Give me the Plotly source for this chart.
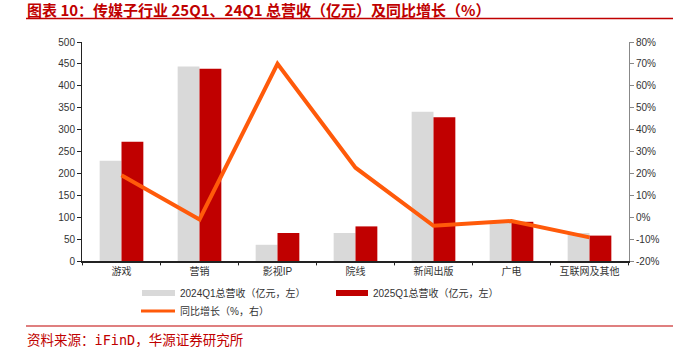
import plotly.graph_objects as go

categories = ["游戏", "营销", "影视IP", "院线", "新闻出版", "广电", "互联网及其他"]
rev_2024q1 = [229, 444, 37, 64, 341, 91, 64]
rev_2025q1 = [272, 439, 64, 79, 328, 89.5, 58]
yoy_growth = [19.2, -1.0, 70.0, 22.6, -3.9, -1.7, -9.2]

left_ticks = list(range(0, 501, 50))
right_ticks = list(range(-20, 81, 10))
right_tick_text = [f"{v}%" for v in right_ticks]

W, H = 687, 347
L, R, T, B = 82, 58, 42, 86
PW, PH = W - L - R, H - T - B

def px(x):
    return (x - L) / PW

def py(y):
    return (H - B - y) / PH

GRAY = "#d9d9d9"
RED = "#c00000"
ORANGE = "#ff5a0a"
TXT = "#333333"
FONT = "Liberation Sans, Noto Sans CJK SC, Arial"
CJK = "Noto Sans CJK SC, Liberation Sans"

fig = go.Figure()
fig.add_trace(go.Bar(x=categories, y=rev_2024q1, marker=dict(color=GRAY, line=dict(width=0)),
                     name="2024Q1总营收（亿元，左）"))
fig.add_trace(go.Bar(x=categories, y=rev_2025q1, marker=dict(color=RED, line=dict(width=0)),
                     name="2025Q1总营收（亿元，左）"))
fig.add_trace(go.Scatter(x=categories, y=yoy_growth, yaxis="y2", mode="lines",
                         line=dict(color=ORANGE, width=4), name="同比增长（%，右）"))

shapes = []
annotations = []

# title
annotations.append(dict(xref="paper", yref="paper", x=px(25), y=py(9), xanchor="left", yanchor="middle",
                        text="<b>图表 10：传媒子行业 25Q1、24Q1 总营收（亿元）及同比增长（%）</b>",
                        showarrow=False, font=dict(family=CJK, size=15, color=RED)))
shapes.append(dict(type="line", xref="paper", yref="paper", x0=px(26), x1=px(673), y0=py(18.5), y1=py(18.5),
                   line=dict(color=RED, width=1.5)))
# footer
shapes.append(dict(type="line", xref="paper", yref="paper", x0=px(26), x1=px(673), y0=py(326), y1=py(326),
                   line=dict(color=RED, width=1.2)))
annotations.append(dict(xref="paper", yref="paper", x=px(25), y=py(340), xanchor="left", yanchor="middle",
                        text="资料来源：iFinD，华源证券研究所", showarrow=False,
                        font=dict(family="DejaVu Sans Mono, Noto Sans CJK SC", size=13.5, color=RED)))

# legend
shapes.append(dict(type="rect", xref="paper", yref="paper", x0=px(142), x1=px(175), y0=py(290), y1=py(296),
                   fillcolor=GRAY, line=dict(width=0)))
annotations.append(dict(xref="paper", yref="paper", x=px(178), y=py(293), xanchor="left", yanchor="middle",
                        text="2024Q1总营收（亿元，左）", showarrow=False, font=dict(family=FONT, size=10, color=TXT)))
shapes.append(dict(type="rect", xref="paper", yref="paper", x0=px(336), x1=px(368), y0=py(290), y1=py(296),
                   fillcolor=RED, line=dict(width=0)))
annotations.append(dict(xref="paper", yref="paper", x=px(371), y=py(293), xanchor="left", yanchor="middle",
                        text="2025Q1总营收（亿元，左）", showarrow=False, font=dict(family=FONT, size=10, color=TXT)))
shapes.append(dict(type="line", xref="paper", yref="paper", x0=px(141), x1=px(175), y0=py(311), y1=py(311),
                   line=dict(color=ORANGE, width=3)))
annotations.append(dict(xref="paper", yref="paper", x=px(178), y=py(311), xanchor="left", yanchor="middle",
                        text="同比增长（%，右）", showarrow=False, font=dict(family=FONT, size=10, color=TXT)))

fig.update_layout(
    width=W, height=H,
    margin=dict(l=L, r=R, t=T, b=B),
    paper_bgcolor="white", plot_bgcolor="white",
    barmode="group", bargap=0.44, bargroupgap=0,
    showlegend=False,
    font=dict(family=FONT, size=10, color=TXT),
    xaxis=dict(type="category", showline=True, linecolor="#222", linewidth=1.5,
               ticks="", showgrid=False, tickfont=dict(size=10, color=TXT)),
    yaxis=dict(range=[0, 500], tickvals=left_ticks, showline=True, linecolor="#222", linewidth=1,
               ticks="outside", ticklen=4, tickcolor="#222", showgrid=False, zeroline=False,
               tickfont=dict(size=10, color=TXT)),
    yaxis2=dict(range=[-20, 80], tickvals=right_ticks, ticktext=right_tick_text, overlaying="y",
                side="right", showline=True, linecolor="#888", linewidth=1, ticks="outside",
                ticklen=4, tickcolor="#888", showgrid=False, zeroline=False,
                tickfont=dict(size=10, color=TXT)),
    shapes=shapes, annotations=annotations,
)

# x-axis boundary tick marks between categories
for i in range(len(categories) + 1):
    fig.add_shape(type="line", xref="x", yref="paper", x0=i - 0.5, x1=i - 0.5, y0=0, y1=-0.02,
                  line=dict(color="#222", width=1))

fig.write_html("out.html")
